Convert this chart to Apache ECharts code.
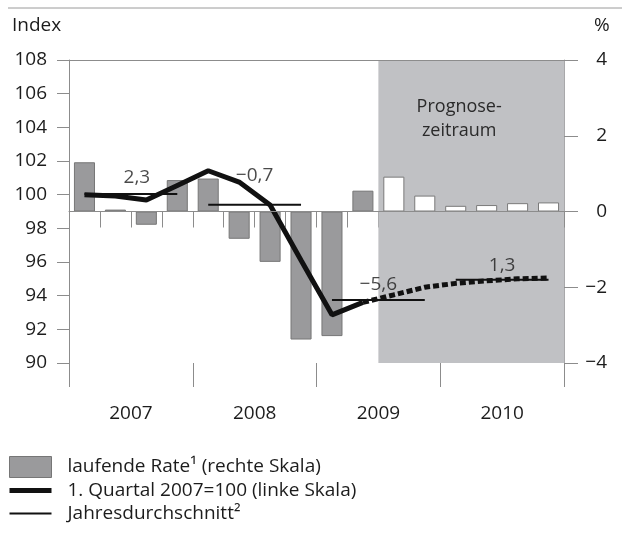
<!DOCTYPE html>
<html>
<head>
<meta charset="utf-8">
<script src="https://cdn.jsdelivr.net/npm/echarts@6/dist/echarts.min.js"></script>
<style>
  html, body { margin: 0; padding: 0; background: #fff; }
  #main { width: 622px; height: 534px; }
</style>
</head>
<body>
<div id="main"></div>
<script>
// Jahre (Achsenbeschriftung) und Quartale
var years = ['2007', '2008', '2009', '2010'];
var quarters = ['2007 Q1', '2007 Q2', '2007 Q3', '2007 Q4',
                '2008 Q1', '2008 Q2', '2008 Q3', '2008 Q4',
                '2009 Q1', '2009 Q2', '2009 Q3', '2009 Q4',
                '2010 Q1', '2010 Q2', '2010 Q3', '2010 Q4'];
var forecastStart = 10; // ab 2009 Q3 Prognose

// laufende Rate in % (rechte Skala)
var rateValues = [1.3, 0.05, -0.35, 0.83, 0.87, -0.72, -1.33, -3.38,
                  -3.29, 0.55, 0.92, 0.42, 0.15, 0.17, 0.22, 0.24];
// Index 1. Quartal 2007 = 100 (linke Skala), Ist-Werte bis 2009 Q2
var indexActual = [100.0, 99.92, 99.68, 100.55, 101.42, 100.75, 99.39, 96.1, 92.86, 93.6];
// Prognose ab 2009 Q2 (Anschluss) bis 2010 Q4
var indexForecast = [93.6, 94.05, 94.5, 94.73, 94.88, 95.0, 95.05];
// Jahresdurchschnitt des Index und Jahresrate als Text
var annualAvg = [100.04, 99.4, 93.75, 94.95];
var annualRateLabels = ['2,3', '\u22120,7', '\u22125,6', '1,3'];

var leftTicks = { min: 90, max: 108, interval: 2 };
var rightTicks = { min: -4, max: 4, interval: 2 };

var nameRate = 'laufende Rate\u00b9 (rechte Skala)';
var nameIndex = '1. Quartal 2007=100 (linke Skala)';
var nameAvg = 'Jahresdurchschnitt\u00b2';

// Lage der Jahreszahl-Labels (px)
var labelLift = [7, 20, 6, 5];
var labelShift = [6, 0, 0, 0];

var FONT = '"Open Sans", sans-serif';
var TXT = '#1c1c1c';
var AXIS = '#8c8c8c';

var chart = echarts.init(document.getElementById('main'), null, { renderer: 'canvas' });

var barData = rateValues.map(function (v, i) {
  if (i >= forecastStart) {
    return { value: v, itemStyle: { color: '#ffffff', borderColor: '#7a7a7a' } };
  }
  return v;
});

var actualData = quarters.map(function (q, i) {
  return i < indexActual.length ? indexActual[i] : null;
});
var forecastData = quarters.map(function (q, i) {
  var j = i - (forecastStart - 1);
  return j >= 0 ? indexForecast[j] : null;
});

var series = [{
  name: nameRate,
  type: 'bar',
  xAxisIndex: 0,
  yAxisIndex: 1,
  barWidth: '68%',
  data: barData,
  itemStyle: { color: '#9a9a9c', borderColor: '#767676', borderWidth: 1 },
  z: 2,
  markLine: {
    silent: true,
    symbol: 'none',
    label: { show: false },
    lineStyle: { color: AXIS, width: 1, type: 'solid' },
    data: [{ yAxis: 0 }, { yAxis: rightTicks.max }]
  }
}, {
  name: nameIndex,
  type: 'line',
  data: actualData,
  symbol: 'none',
  lineStyle: { color: '#111', width: 5 },
  itemStyle: { color: '#111' },
  z: 4
}, {
  name: 'Prognose Index',
  type: 'line',
  data: forecastData,
  symbol: 'none',
  lineStyle: { color: '#111', width: 5, type: [6, 3] },
  itemStyle: { color: '#111' },
  z: 4
}];

annualAvg.forEach(function (v, k) {
  series.push({
    name: nameAvg,
    type: 'line',
    data: quarters.map(function (q, i) { return Math.floor(i / 4) === k ? v : null; }),
    symbol: 'none',
    lineStyle: { color: '#111', width: 2 },
    itemStyle: { color: '#111' },
    z: 3
  });
});

// Jahresraten-Labels und Prognosezeitraum auf einer verdeckten Werte-Achse
series.push({
  name: 'Jahresrate',
  type: 'scatter',
  xAxisIndex: 2,
  yAxisIndex: 0,
  symbolSize: 0,
  silent: true,
  data: annualAvg.map(function (v, k) {
    return {
      value: [k * 4 + 2, v],
      label: { distance: labelLift[k], offset: [labelShift[k], 0] }
    };
  }),
  label: {
    show: true,
    position: 'top',
    fontFamily: FONT,
    fontSize: 19,
    color: TXT,
    formatter: function (p) { return annualRateLabels[p.dataIndex]; }
  },
  z: 5,
  markArea: {
    silent: true,
    itemStyle: { color: '#c0c1c4' },
    label: {
      show: true,
      position: 'insideTop',
      distance: 35,
      offset: [-12, 0],
      formatter: 'Prognose-\nzeitraum',
      fontFamily: FONT,
      fontSize: 18,
      lineHeight: 24,
      color: '#2a2a2a'
    },
    data: [[{ xAxis: forecastStart }, { xAxis: quarters.length }]]
  }
});

var option = {
  animation: false,
  backgroundColor: '#fff',
  textStyle: { fontFamily: FONT },
  grid: { left: 69, right: 58, top: 60, bottom: 171 },
  xAxis: [{
    type: 'category',
    data: quarters,
    position: 'bottom',
    boundaryGap: true,
    axisLine: { show: true, lineStyle: { color: AXIS } },
    axisTick: { show: true, interval: 0, length: 16, lineStyle: { color: AXIS } },
    axisLabel: { show: false },
    splitLine: { show: false }
  }, {
    type: 'category',
    data: years,
    position: 'bottom',
    boundaryGap: true,
    axisLine: { show: false },
    axisTick: { show: true, length: 24, lineStyle: { color: AXIS } },
    axisLabel: { margin: 41, fontSize: 19, color: TXT, fontFamily: FONT },
    splitLine: { show: false }
  }, {
    type: 'value',
    show: false,
    min: 0,
    max: quarters.length,
    position: 'bottom'
  }],
  yAxis: [{
    type: 'value',
    min: leftTicks.min,
    max: leftTicks.max,
    interval: leftTicks.interval,
    position: 'left',
    axisLine: { show: true, lineStyle: { color: AXIS } },
    axisTick: { show: true, length: 12, lineStyle: { color: AXIS } },
    axisLabel: { margin: 22, fontSize: 19, color: TXT, fontFamily: FONT },
    splitLine: { show: false }
  }, {
    type: 'value',
    min: rightTicks.min,
    max: rightTicks.max,
    interval: rightTicks.interval,
    position: 'right',
    axisLine: { show: true, lineStyle: { color: '#a8a8aa' } },
    axisTick: { show: true, length: 14, lineStyle: { color: AXIS } },
    axisLabel: {
      margin: 43, align: 'right', fontSize: 19, color: TXT, fontFamily: FONT,
      formatter: function (v) { return String(v).replace('-', '\u2212'); }
    },
    splitLine: { show: false }
  }],
  legend: {
    orient: 'vertical',
    left: 9,
    top: 456,
    padding: 0,
    itemWidth: 42,
    itemHeight: 21,
    itemGap: 2,
    selectedMode: false,
    textStyle: { fontSize: 19, lineHeight: 21, color: TXT, fontFamily: FONT, padding: [0, 0, 0, 11] },
    data: [
      { name: nameRate, icon: 'rect', itemStyle: { color: '#9a9a9c', borderColor: '#767676', borderWidth: 1 } },
      { name: nameIndex, icon: 'path://M0,0H42V5H0Z', itemStyle: { color: '#111', borderWidth: 0 } },
      { name: nameAvg, icon: 'path://M0,0H42V2H0Z', itemStyle: { color: '#111', borderWidth: 0 } }
    ]
  },
  graphic: [{
    type: 'line',
    shape: { x1: 8, y1: 8, x2: 622, y2: 8 },
    style: { stroke: '#9a9a9a', lineWidth: 1 }
  }, {
    type: 'text',
    left: 12,
    top: 16,
    style: { text: 'Index', font: '19px ' + FONT, fill: TXT }
  }, {
    type: 'text',
    left: 594,
    top: 16,
    style: { text: '%', font: '19px ' + FONT, fill: TXT }
  }],
  series: series
};

chart.setOption(option);
</script>
</body>
</html>
